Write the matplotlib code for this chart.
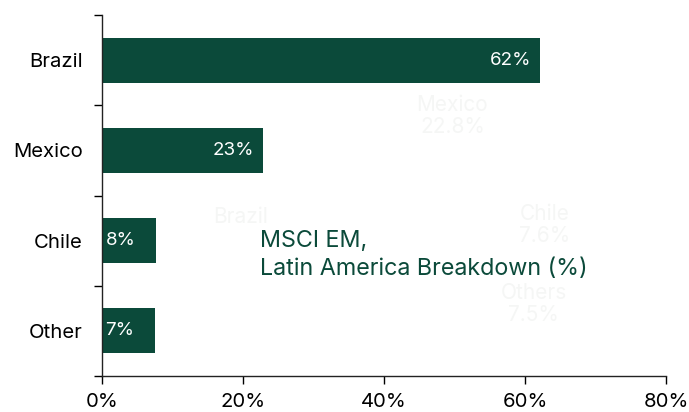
import matplotlib.pyplot as plt
import numpy as np

plt.rcParams['font.family'] = ['Inter', 'DejaVu Sans']

countries = ['Brazil', 'Mexico', 'Chile', 'Other']
shares = [62.1, 22.8, 7.6, 7.5]
share_labels = ['62%', '23%', '8%', '7%']
x_ticks = [0, 20, 40, 60, 80]
title_lines = ['MSCI EM,', 'Latin America Breakdown (%)']

# faint leftovers of the original pie labels
ghost_text = ['Mexico\n22.8%', 'Brazil', 'Chile\n7.6%', 'Others\n7.5%']
ghost_pos = [(49.7, 0.62), (19.6, 1.74), (62.8, 1.83), (61.2, 2.7)]

green = '#0b4a3a'

fig = plt.figure(figsize=(6.89, 4.12), dpi=100)
ax = fig.add_axes([102/689, 1 - 376/412, 564/689, 361/412])

y = np.arange(len(countries))
ax.barh(y, shares, height=0.5, color=green)

for i, (v, lab) in enumerate(zip(shares, share_labels)):
    if v > 15:
        ax.text(v - 1.2, i, lab, color='white', ha='right', va='center', fontsize=13.5)
    else:
        ax.text(0.5, i, lab, color='white', ha='left', va='center', fontsize=13.5)

for t, (gx, gy) in zip(ghost_text, ghost_pos):
    ax.text(gx, gy, t, color='#f5f6f5', ha='center', va='center', fontsize=15, linespacing=1.15)

for k, line in enumerate(title_lines):
    ax.text(22.4, 2.0 + 0.31 * k, line, color=green,
            ha='left', va='center', fontsize=16.8)

ax.set_xlim(0, 80)
ax.set_ylim(3.5, -0.5)
ax.set_xticks(x_ticks)
ax.set_xticklabels([f'{t}%' for t in x_ticks])
ax.set_yticks(y)
ax.set_yticklabels(countries)
ax.set_yticks(np.arange(-0.5, 4, 1), minor=True)
ax.tick_params(axis='y', which='major', length=0, pad=14, labelsize=14.6)
ax.tick_params(axis='y', which='minor', length=6, width=1, direction='out')
ax.tick_params(axis='x', length=6, width=1, labelsize=14.6, pad=6)

for s in ['top', 'right']:
    ax.spines[s].set_visible(False)
for s in ['left', 'bottom']:
    ax.spines[s].set_linewidth(1)
    ax.spines[s].set_color('#222222')

fig.savefig('out.png', dpi=100)
